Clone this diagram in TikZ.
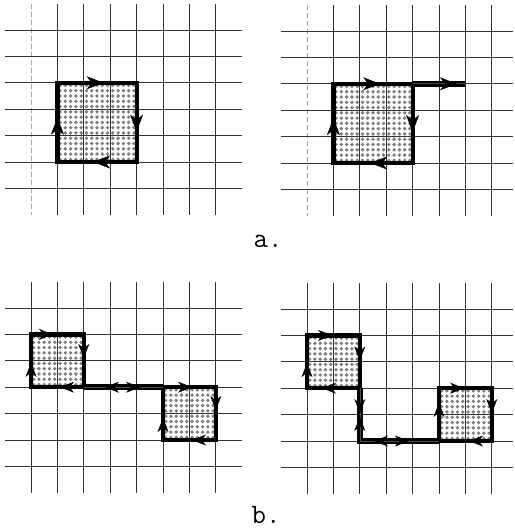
\documentclass[tikz,border=0pt]{standalone}
\usetikzlibrary{arrows.meta}

\begin{document}
\begin{tikzpicture}[
    x=1pt, y=-1pt,
    gridline/.style={line width=0.75pt, black!80},
    faint/.style={line width=0.6pt, black!35, dash pattern=on 5pt off 3pt},
    dot/.style={fill=black!50},
    rim/.style={line width=4.2pt, line join=miter},
    tube/.style={line width=2.8pt, double=black!70, double distance=0.6pt},
    flow/.style={-{Stealth[length=17pt,width=13pt,inset=5pt]}, line width=0.5pt},
    flowsm/.style={-{Stealth[length=14pt,width=11pt,inset=4.5pt]}, line width=0.5pt},
    tag/.style={font=\fontsize{28}{30}\selectfont\ttfamily, inner sep=0pt},
  ]
  \useasboundingbox (0,0) rectangle (514,529);

  % a. one square, then the square with a tail
  \begin{scope}[shift={(31,30)}, x=26.4pt, y=-26.4pt]
    \draw[faint] (0,-1) -- (0,7);
    \foreach \i in {1,...,7} \draw[gridline] (\i,-1) -- (\i,7);
    \foreach \j in {0,...,6} \draw[gridline] (-1,\j) -- (8,\j);
    \foreach \k in {1,...,15} \foreach \l in {1,...,15}
      \fill[dot] ({1+(\k-0.5)/5},{2+(\l-0.5)/5}) circle (1.9pt);
    \draw[rim] (1,2) rectangle (4,5);
    \draw[flow] (2.35,2) -- (2.75,2);
    \draw[flow] (4,3.45) -- (4,3.85);
    \draw[flow] (2.75,5) -- (2.35,5);
    \draw[flow] (1,3.72) -- (1,3.32);
  \end{scope}

  \begin{scope}[shift={(307,31)}, x=26.4pt, y=-26.4pt]
    \draw[faint] (0,-1) -- (0,7);
    \foreach \i in {1,...,7} \draw[gridline] (\i,-1) -- (\i,7);
    \foreach \j in {0,...,6} \draw[gridline] (-1,\j) -- (7.8,\j);
    \foreach \k in {1,...,15} \foreach \l in {1,...,15}
      \fill[dot] ({1+(\k-0.5)/5},{2+(\l-0.5)/5}) circle (1.9pt);
    \draw[rim] (1,2) rectangle (4,5);
    \draw[tube] (4,2) -- (6,2);
    \draw[flow] (2.37,2) -- (2.77,2);
    \draw[flow] (4,3.43) -- (4,3.83);
    \draw[flow] (2.79,5) -- (2.39,5);
    \draw[flow] (1,3.7) -- (1,3.3);
    \draw[flow] (5.28,2) -- (5.68,2);
  \end{scope}

  \node[tag, anchor=base] (lbla) at (268,247) {a.};

  % b. two squares joined by a tube
  \begin{scope}[shift={(31,308)}, x=26.4pt, y=-26.4pt]
    \foreach \i in {0,...,7} \draw[gridline] (\i,-1) -- (\i,7);
    \foreach \j in {0,...,6} \draw[gridline] (-1,\j) -- (8,\j);
    \foreach \k in {1,...,10} \foreach \l in {1,...,10} {
      \fill[dot] ({(\k-0.5)/5},{1+(\l-0.5)/5}) circle (1.9pt);
      \fill[dot] ({5+(\k-0.5)/5},{3+(\l-0.5)/5}) circle (1.9pt);
    }
    \draw[rim] (0,1) rectangle (2,3);
    \draw[rim] (5,3) rectangle (7,5);
    \draw[tube] (2,3) -- (5,3);
    \draw[flowsm] (0.5,1) -- (0.83,1);
    \draw[flowsm] (2,1.56) -- (2,1.89);
    \draw[flowsm] (1.43,3) -- (1.1,3);
    \draw[flowsm] (0,2.41) -- (0,2.08);
    \draw[flowsm] (3.13,3) -- (2.8,3);
    \draw[flowsm] (3.8,3) -- (4.13,3);
    \draw[flowsm] (5.77,3) -- (6.1,3);
    \draw[flowsm] (7,3.53) -- (7,3.86);
    \draw[flowsm] (6.43,5) -- (6.1,5);
    \draw[flowsm] (5,4.5) -- (5,4.17);
  \end{scope}

  \begin{scope}[shift={(307,309)}, x=26.4pt, y=-26.4pt]
    \foreach \i in {0,...,7} \draw[gridline] (\i,-1) -- (\i,7);
    \foreach \j in {0,...,6} \draw[gridline] (-1,\j) -- (7.8,\j);
    \foreach \k in {1,...,10} \foreach \l in {1,...,10} {
      \fill[dot] ({(\k-0.5)/5},{1+(\l-0.5)/5}) circle (1.9pt);
      \fill[dot] ({5+(\k-0.5)/5},{3+(\l-0.5)/5}) circle (1.9pt);
    }
    \draw[rim] (0,1) rectangle (2,3);
    \draw[rim] (5,3) rectangle (7,5);
    \draw[tube] (2,3) -- (2,5) -- (5,5);
    \draw[flowsm] (0.62,1) -- (0.95,1);
    \draw[flowsm] (2,1.62) -- (2,1.95);
    \draw[flowsm] (0.9,3) -- (0.57,3);
    \draw[flowsm] (0,2.38) -- (0,2.05);
    \draw[flowsm] (2,3.61) -- (2,3.94);
    \draw[flowsm] (2,4.42) -- (2,4.09);
    \draw[flowsm] (3.53,5) -- (3.86,5);
    \draw[flowsm] (2.87,5) -- (2.54,5);
    \draw[flowsm] (5.62,3) -- (5.95,3);
    \draw[flowsm] (7,3.61) -- (7,3.94);
    \draw[flowsm] (6.47,5) -- (6.14,5);
    \draw[flowsm] (5,3.89) -- (5,3.56);
  \end{scope}

  \node[tag, anchor=base] (lblb) at (266,523) {b.};
\end{tikzpicture}
\end{document}
